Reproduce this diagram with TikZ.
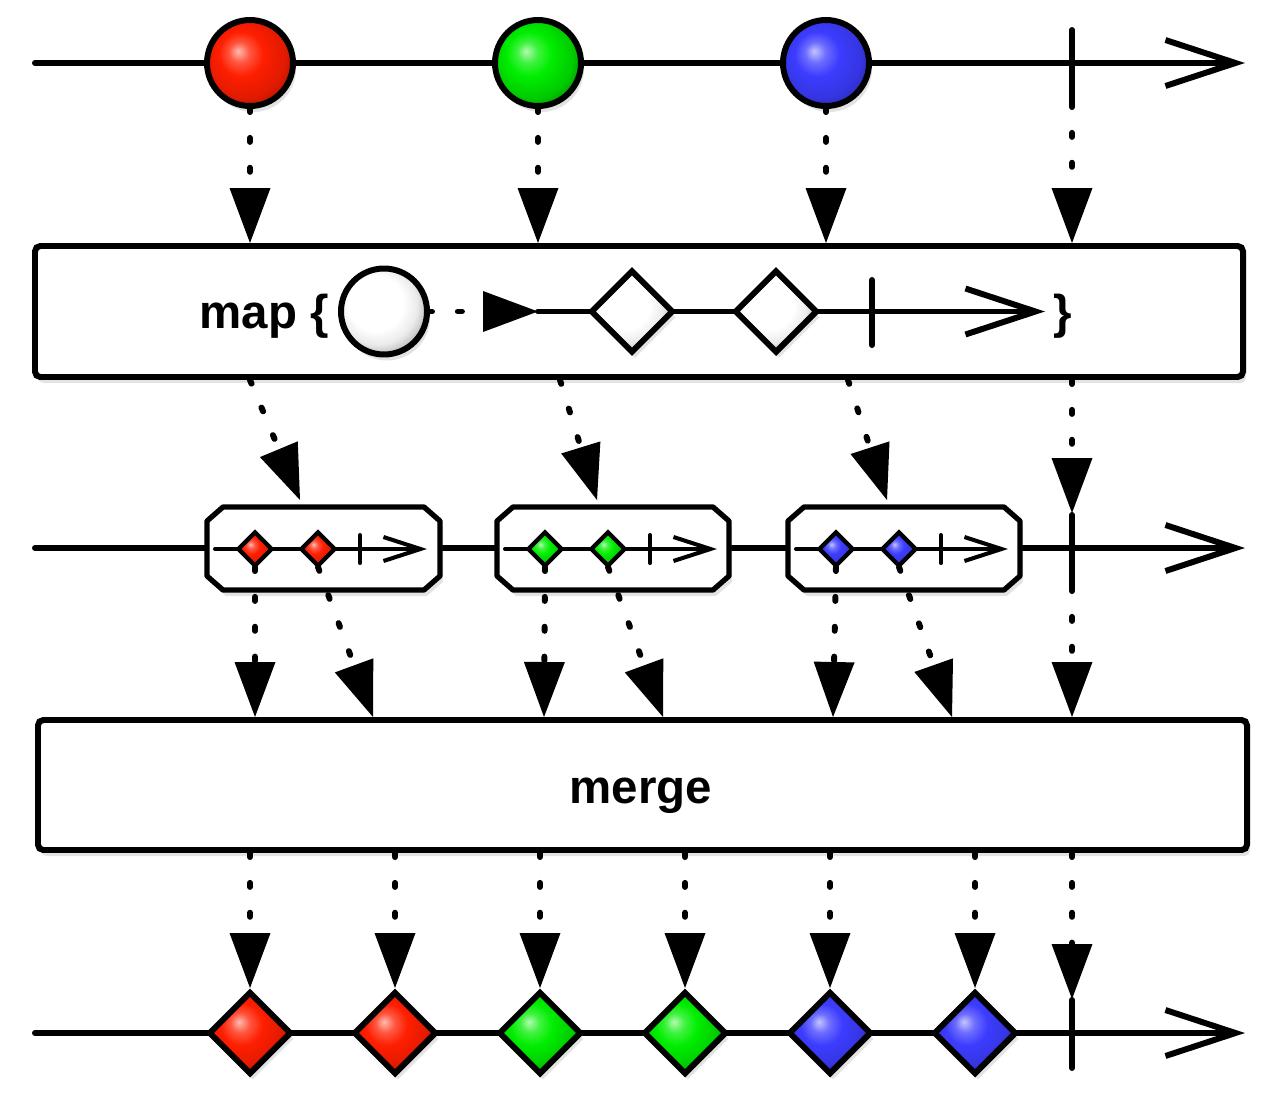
\documentclass[tikz,border=0pt]{standalone}
\usepackage{fontspec}
\setmainfont{Liberation Sans}
\usepackage{tikz}
\usepackage{tkz-euclide}
\usetikzlibrary{arrows.meta,shapes.geometric,shadows}
\definecolor{mred}{RGB}{255,30,0}
\definecolor{mgreen}{RGB}{0,238,0}
\definecolor{mblue}{RGB}{60,60,255}
\pgfdeclareradialshading{redmarb}{\pgfpoint{-7bp}{7bp}}{color(0bp)=(mred!30!white); color(6bp)=(mred!75!white); color(13bp)=(mred); color(24bp)=(mred!88!black); color(33bp)=(mred!62!black); color(50bp)=(mred!62!black)}
\pgfdeclareradialshading{greenmarb}{\pgfpoint{-7bp}{7bp}}{color(0bp)=(mgreen!30!white); color(6bp)=(mgreen!75!white); color(13bp)=(mgreen); color(24bp)=(mgreen!85!black); color(33bp)=(mgreen!55!black); color(50bp)=(mgreen!55!black)}
\pgfdeclareradialshading{bluemarb}{\pgfpoint{-7bp}{7bp}}{color(0bp)=(mblue!30!white); color(6bp)=(mblue!75!white); color(13bp)=(mblue); color(24bp)=(mblue!88!black); color(33bp)=(mblue!62!black); color(50bp)=(mblue!62!black)}
\pgfdeclareradialshading{whitemarb}{\pgfpoint{-7bp}{7bp}}{color(0bp)=(white); color(16bp)=(white); color(23bp)=(black!8); color(29bp)=(black!28); color(34bp)=(black!50); color(50bp)=(black!50)}
\tikzset{
	softshadow/.style={drop shadow={opacity=0.22,shadow xshift=0.06cm,shadow yshift=-0.12cm}},
	flow/.style={line width=3.4pt,-{Straight Barb[length=1.4cm,width=0.92cm]}},
	flowsmall/.style={line width=2.3pt,-{Straight Barb[length=0.74cm,width=0.48cm]}},
	emit/.style={line width=3.4pt,line cap=round,dash pattern=on 2.3pt off 14.7pt,-{Triangle[length=1.1cm,width=0.82cm,line width=0pt]}},
	endmark/.style={line width=3.4pt},
	thinmark/.style={line width=2.3pt},
	marble/.style={circle,draw,line width=3.4pt,minimum size=1.72cm,inner sep=0pt,shade,shading=#1marb,softshadow},
	gem/.style={diamond,draw,line width=3.4pt,minimum width=1.66cm,minimum height=1.66cm,inner sep=0pt,shade,shading=#1marb,softshadow},
	smallgem/.style={diamond,draw,line width=2.4pt,minimum width=0.7cm,minimum height=0.7cm,inner sep=0pt,shade,shading=#1marb},
	opbox/.style={rectangle,rounded corners=3pt,draw,line width=3.4pt,fill=white,inner sep=0pt,softshadow},
	subbox/.style={draw,line width=3pt,line join=round,fill=white,softshadow},
	optext/.style={font=\fontsize{27}{30}\selectfont\bfseries,inner sep=0pt}
}

\begin{document}
\begin{tikzpicture}
	\useasboundingbox (0,0) rectangle (25.6,-22.4);
	\tkzDefPoint(0.7,-1.26){T0};
	\tkzDefPoint(24.9,-1.26){T1};
	\tkzDefPoint(0.7,-10.96){U0};
	\tkzDefPoint(24.9,-10.96){U1};
	\tkzDefPoint(0.7,-20.66){V0};
	\tkzDefPoint(24.9,-20.66){V1};
	\tkzDrawSegment[flow](T0,T1);
	\tkzDrawSegment[flow](U0,U1);
	\tkzDrawSegment[flow](V0,V1);
	
	\tkzDefPoint(21.44,-0.6){E1};
	\tkzDefPoint(21.44,-2.06){E2};
	\tkzDefPoint(21.44,-10.3){E3};
	\tkzDefPoint(21.44,-11.74){E4};
	\tkzDefPoint(21.44,-20.0){E5};
	\tkzDefPoint(21.44,-21.36){E6};
	\tkzDrawSegment[endmark](E1,E2);
	\tkzDrawSegment[endmark](E3,E4);
	\tkzDrawSegment[endmark](E5,E6);
	
	\node[marble=red] (R) at (5,-1.26) {};
	\node[marble=green] (G) at (10.76,-1.26) {};
	\node[marble=blue] (B) at (16.52,-1.26) {};
	
	\tkzDefPoint(5,-2.16){Ra};
	\tkzDefPoint(5,-4.86){Rb};
	\tkzDefPoint(10.76,-2.16){Ga};
	\tkzDefPoint(10.76,-4.86){Gb};
	\tkzDefPoint(16.52,-2.16){Ba};
	\tkzDefPoint(16.52,-4.86){Bb};
	\tkzDefPoint(21.44,-4.86){Eb};
	\tkzDrawSegment[emit](Ra,Rb);
	\tkzDrawSegment[emit](Ga,Gb);
	\tkzDrawSegment[emit](Ba,Bb);
	\tkzDrawSegment[emit](E2,Eb);
	
	\node[opbox,minimum width=24.16cm,minimum height=2.62cm] (map) at (12.78,-6.23) {};
	\tkzDefPoint(8.56,-6.23){Wa};
	\tkzDefPoint(10.76,-6.23){M0};
	\tkzDefPoint(20.9,-6.23){M1};
	\tkzDefPoint(17.44,-5.6){F1};
	\tkzDefPoint(17.44,-6.9){F2};
	\tkzDrawSegment[flow](M0,M1);
	\tkzDrawSegment[endmark](F1,F2);
	\node[gem=white] (D1) at (12.64,-6.23) {};
	\node[gem=white] (D2) at (15.52,-6.23) {};
	\node[marble=white] (W) at (7.68,-6.23) {};
	\tkzDrawSegment[emit](Wa,M0);
	\node[optext,anchor=base east] (mapl) at (6.58,-6.56) {map \{};
	\node[optext,anchor=base west] (mapr) at (21.06,-6.56) {\}};
	
	\tkzDefPoint(5,-7.6){Pa};
	\tkzDefPoint(6,-10.0){Pb};
	\tkzDefPoint(11.2,-7.6){Qa};
	\tkzDefPoint(11.94,-10.0){Qb};
	\tkzDefPoint(16.96,-7.6){Sa};
	\tkzDefPoint(17.74,-10.0){Sb};
	\tkzDefPoint(21.44,-7.6){Ea};
	\tkzDefPoint(21.44,-10.26){Ec};
	\tkzDrawSegment[emit](Pa,Pb);
	\tkzDrawSegment[emit](Qa,Qb);
	\tkzDrawSegment[emit](Sa,Sb);
	\tkzDrawSegment[emit](Ea,Ec);
	
	\draw[subbox] (4.46,-10.14) -- (8.48,-10.14) -- (8.8,-10.42) -- (8.8,-11.52) -- (8.48,-11.8) -- (4.46,-11.8) -- (4.14,-11.52) -- (4.14,-10.42) -- cycle;
	\draw[subbox] (10.26,-10.14) -- (14.26,-10.14) -- (14.58,-10.42) -- (14.58,-11.52) -- (14.26,-11.8) -- (10.26,-11.8) -- (9.94,-11.52) -- (9.94,-10.42) -- cycle;
	\draw[subbox] (16.08,-10.14) -- (20.08,-10.14) -- (20.4,-10.42) -- (20.4,-11.52) -- (20.08,-11.8) -- (16.08,-11.8) -- (15.76,-11.52) -- (15.76,-10.42) -- cycle;
	\tkzDefPoint(4.3,-10.98){K1a};
	\tkzDefPoint(8.54,-10.98){K1b};
	\tkzDefPoint(10.1,-10.98){K2a};
	\tkzDefPoint(14.34,-10.98){K2b};
	\tkzDefPoint(15.92,-10.98){K3a};
	\tkzDefPoint(20.16,-10.98){K3b};
	\tkzDrawSegment[flowsmall](K1a,K1b);
	\tkzDrawSegment[flowsmall](K2a,K2b);
	\tkzDrawSegment[flowsmall](K3a,K3b);
	\tkzDefPoint(7.2,-10.7){J1a};
	\tkzDefPoint(7.2,-11.26){J1b};
	\tkzDefPoint(13.0,-10.7){J2a};
	\tkzDefPoint(13.0,-11.26){J2b};
	\tkzDefPoint(18.82,-10.7){J3a};
	\tkzDefPoint(18.82,-11.26){J3b};
	\tkzDrawSegment[thinmark](J1a,J1b);
	\tkzDrawSegment[thinmark](J2a,J2b);
	\tkzDrawSegment[thinmark](J3a,J3b);
	\node[smallgem=red] (r1) at (5.1,-10.98) {};
	\node[smallgem=red] (r2) at (6.36,-10.98) {};
	\node[smallgem=green] (g1) at (10.9,-10.98) {};
	\node[smallgem=green] (g2) at (12.16,-10.98) {};
	\node[smallgem=blue] (b1) at (16.72,-10.98) {};
	\node[smallgem=blue] (b2) at (17.98,-10.98) {};
	
	\tkzDefPoint(5.1,-11.34){X1a};
	\tkzDefPoint(5.1,-14.34){X1b};
	\tkzDefPoint(6.36,-11.34){X2a};
	\tkzDefPoint(7.46,-14.34){X2b};
	\tkzDefPoint(10.9,-11.34){X3a};
	\tkzDefPoint(10.88,-14.34){X3b};
	\tkzDefPoint(12.16,-11.34){X4a};
	\tkzDefPoint(13.26,-14.34){X4b};
	\tkzDefPoint(16.72,-11.34){X5a};
	\tkzDefPoint(16.66,-14.34){X5b};
	\tkzDefPoint(17.98,-11.34){X6a};
	\tkzDefPoint(19.04,-14.34){X6b};
	\tkzDefPoint(21.44,-14.34){Ed};
	\tkzDrawSegment[emit](X1a,X1b);
	\tkzDrawSegment[emit](X2a,X2b);
	\tkzDrawSegment[emit](X3a,X3b);
	\tkzDrawSegment[emit](X4a,X4b);
	\tkzDrawSegment[emit](X5a,X5b);
	\tkzDrawSegment[emit](X6a,X6b);
	\tkzDrawSegment[emit](E4,Ed);
	
	\node[opbox,minimum width=24.18cm,minimum height=2.6cm] (merge) at (12.85,-15.7) {};
	\node[optext,anchor=base] (mergel) at (12.82,-16.06) {merge};
	
	\tkzDefPoint(5,-17.06){Y1a};
	\tkzDefPoint(5,-19.76){Y1b};
	\tkzDefPoint(7.9,-17.06){Y2a};
	\tkzDefPoint(7.9,-19.76){Y2b};
	\tkzDefPoint(10.8,-17.06){Y3a};
	\tkzDefPoint(10.8,-19.76){Y3b};
	\tkzDefPoint(13.7,-17.06){Y4a};
	\tkzDefPoint(13.7,-19.76){Y4b};
	\tkzDefPoint(16.6,-17.06){Y5a};
	\tkzDefPoint(16.6,-19.76){Y5b};
	\tkzDefPoint(19.5,-17.06){Y6a};
	\tkzDefPoint(19.5,-19.76){Y6b};
	\tkzDefPoint(21.44,-17.06){Ee};
	\tkzDefPoint(21.44,-19.98){Ef};
	\tkzDrawSegment[emit](Y1a,Y1b);
	\tkzDrawSegment[emit](Y2a,Y2b);
	\tkzDrawSegment[emit](Y3a,Y3b);
	\tkzDrawSegment[emit](Y4a,Y4b);
	\tkzDrawSegment[emit](Y5a,Y5b);
	\tkzDrawSegment[emit](Y6a,Y6b);
	\tkzDrawSegment[emit](Ee,Ef);
	
	\node[gem=red] (O1) at (5,-20.66) {};
	\node[gem=red] (O2) at (7.9,-20.66) {};
	\node[gem=green] (O3) at (10.8,-20.66) {};
	\node[gem=green] (O4) at (13.7,-20.66) {};
	\node[gem=blue] (O5) at (16.6,-20.66) {};
	\node[gem=blue] (O6) at (19.5,-20.66) {};
\end{tikzpicture}
\end{document}
